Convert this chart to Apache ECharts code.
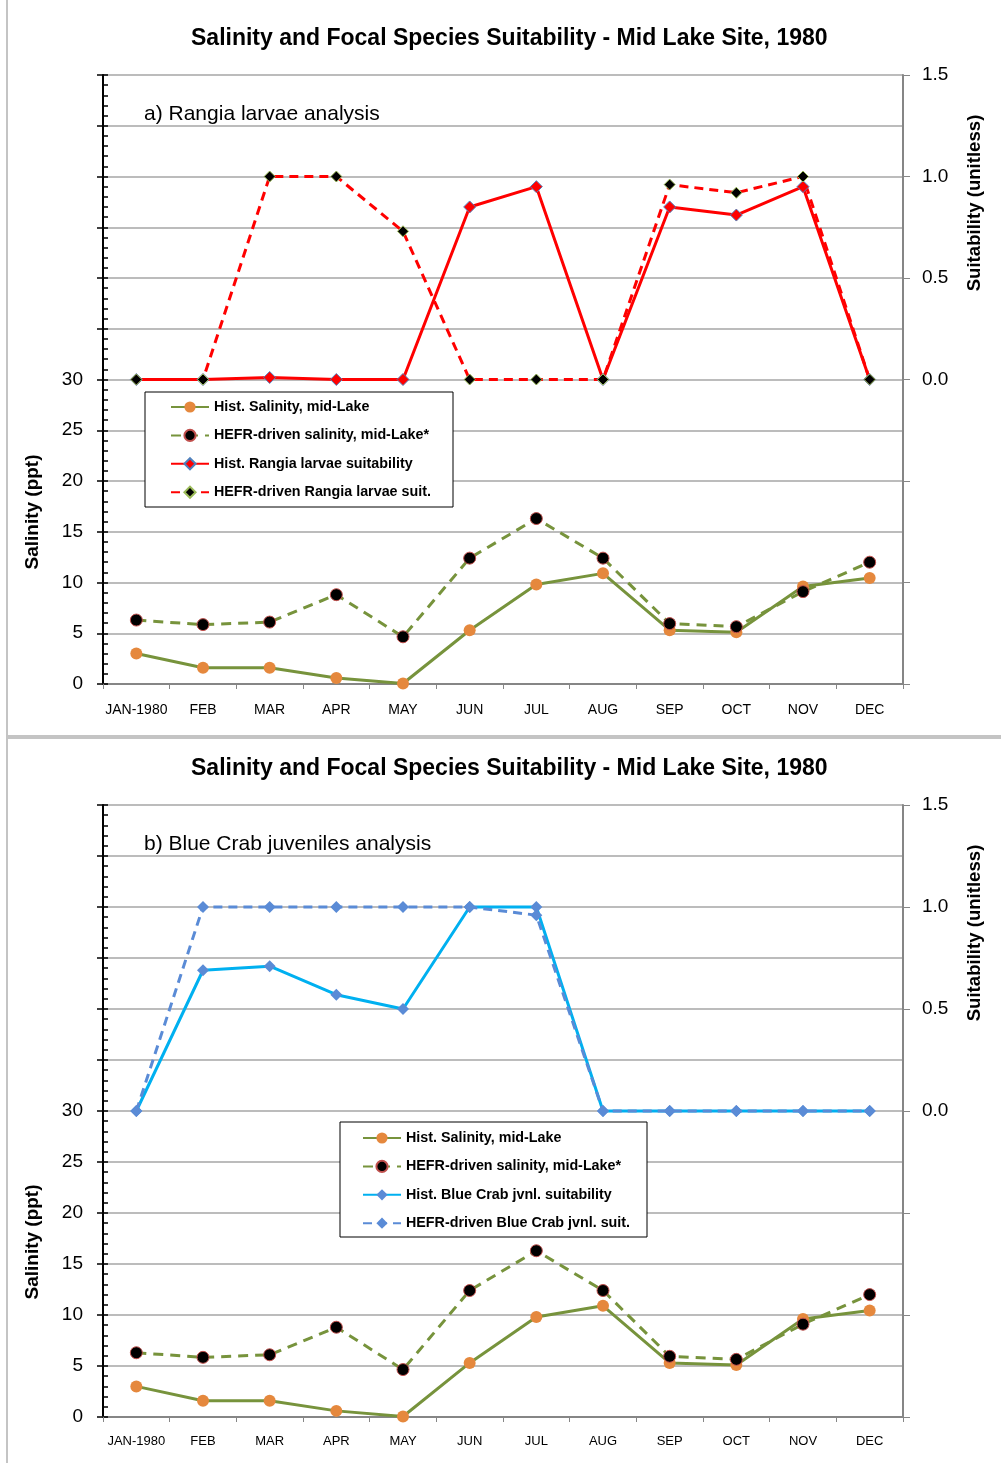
<!DOCTYPE html>
<html>
<head>
<meta charset="UTF-8">
<title>Salinity and Focal Species Suitability - Mid Lake Site, 1980</title>
<script src="https://cdn.jsdelivr.net/npm/echarts@6/dist/echarts.min.js"></script>
<style>
  html, body { margin: 0; padding: 0; background: #fff; }
  body { width: 1001px; height: 1463px; position: relative; overflow: hidden; }
  .chart { position: absolute; left: 0; width: 1001px; }
  #chartA { top: 0; height: 737px; }
  #chartB { top: 737px; height: 726px; }
  .panel { position: absolute; border: 2px solid #c4c4c4; box-sizing: border-box; pointer-events: none; }
  #panelA { left: 6px; top: -2px; width: 1000px; height: 739px; }
  #panelB { left: 6px; top: 737px; width: 1000px; height: 730px; }
</style>
</head>
<body>
<div id="chartA" class="chart"></div>
<div id="chartB" class="chart"></div>
<div id="panelA" class="panel"></div>
<div id="panelB" class="panel"></div>
<script>
var FONT = '"Liberation Sans", Arial, sans-serif';

// data
var months = ['JAN-1980', 'FEB', 'MAR', 'APR', 'MAY', 'JUN', 'JUL', 'AUG', 'SEP', 'OCT', 'NOV', 'DEC'];
var histSalinity = [3.0, 1.6, 1.6, 0.6, 0.05, 5.3, 9.8, 10.9, 5.3, 5.1, 9.6, 10.45];
var hefrSalinity = [6.3, 5.85, 6.1, 8.8, 4.65, 12.4, 16.3, 12.4, 5.95, 5.65, 9.1, 12.0];
var histRangia = [0, 0, 0.01, 0, 0, 0.85, 0.95, 0, 0.85, 0.81, 0.95, 0];
var hefrRangia = [0, 0, 1.0, 1.0, 0.73, 0, 0, 0, 0.96, 0.92, 1.0, 0];
var histBlueCrab = [0, 0.69, 0.71, 0.57, 0.50, 1.0, 1.0, 0, 0, 0, 0, 0];
var hefrBlueCrab = [0, 1.0, 1.0, 1.0, 1.0, 1.0, 0.96, 0, 0, 0, 0, 0];

// tick labels that are shown (the axes run further than this)
var salinityTicks = [0, 5, 10, 15, 20, 25, 30];
var suitTicks = [0, 0.5, 1.0, 1.5];

var mainTitle = 'Salinity and Focal Species Suitability - Mid Lake Site, 1980';

function hasTick(list, v) {
    for (var i = 0; i < list.length; i++) {
        if (Math.abs(list[i] - v) < 1e-6) return true;
    }
    return false;
}

function salinitySeries() {
    return [{
        name: 'Hist. Salinity, mid-Lake',
        type: 'line', yAxisIndex: 0, data: histSalinity,
        symbol: 'circle', symbolSize: 12,
        lineStyle: {color: '#77933C', width: 3},
        itemStyle: {color: '#E5883D'}
    }, {
        name: 'HEFR-driven salinity, mid-Lake*',
        type: 'line', yAxisIndex: 0, data: hefrSalinity,
        symbol: 'circle', symbolSize: 12,
        lineStyle: {color: '#77933C', width: 3, type: [10, 7]},
        itemStyle: {color: '#000', borderColor: '#C0504D', borderWidth: 1}
    }];
}

function makeOption(cfg) {
    var names = [];
    var series = salinitySeries().concat(cfg.suitSeries);
    series.forEach(function (s) { names.push(s.name); });
    return {
        animation: false,
        textStyle: {fontFamily: FONT},
        title: [{
            text: mainTitle, left: 191, top: cfg.titleTop, padding: 0,
            textStyle: {fontFamily: FONT, fontSize: 23, fontWeight: 'bold', color: '#000'}
        }, {
            text: cfg.note, left: 144, top: cfg.noteTop, padding: 0,
            textStyle: {fontFamily: FONT, fontSize: 21, fontWeight: 'normal', color: '#000'}
        }],
        grid: {left: 103, right: 98, top: cfg.gridTop, bottom: cfg.gridBottom},
        legend: {
            orient: 'vertical', left: cfg.legendLeft, top: cfg.legendTop, padding: 0,
            itemWidth: 38, itemHeight: 14, itemGap: 14.4, selectedMode: false,
            data: names,
            textStyle: {fontFamily: FONT, fontSize: 14.3, fontWeight: 'bold', color: '#000'}
        },
        graphic: [{
            type: 'rect', z: 3,
            shape: cfg.box,
            style: {fill: '#fff', stroke: '#000', lineWidth: 1}
        }, {
            type: 'text', x: 33, y: cfg.salNameY, rotation: Math.PI / 2,
            style: {text: 'Salinity (ppt)', fontFamily: FONT, fontSize: 19, fontWeight: 'bold',
                fill: '#000', align: 'center', verticalAlign: 'middle'}
        }, {
            type: 'text', x: 975, y: cfg.suitNameY, rotation: Math.PI / 2,
            style: {text: 'Suitability (unitless)', fontFamily: FONT, fontSize: 18.6, fontWeight: 'bold',
                fill: '#000', align: 'center', verticalAlign: 'middle'}
        }],
        xAxis: {
            type: 'category', data: months, boundaryGap: true,
            axisLine: {onZero: false, lineStyle: {color: '#868686', width: 2}},
            axisTick: {show: true, length: 5, lineStyle: {color: '#868686'}},
            axisLabel: {interval: 0, fontSize: cfg.xFont, color: '#000', margin: cfg.xMargin}
        },
        yAxis: [{
            type: 'value', position: 'left', min: 0, max: 60, interval: 5,
            axisLine: {show: true, onZero: false, lineStyle: {color: '#000', width: 2}},
            axisTick: {show: true, length: 6, lineStyle: {color: '#000', width: 1.5}},
            axisLabel: {fontSize: 19, color: '#000', margin: 20,
                formatter: function (v) { return hasTick(salinityTicks, v) ? String(v) : ''; }},
            splitLine: {show: true, lineStyle: {color: '#a6a6a6', width: 1.5}}
        }, {
            type: 'value', position: 'right', min: -1.5, max: 1.5, interval: 0.5,
            axisLine: {show: true, onZero: false, lineStyle: {color: '#868686', width: 2}},
            axisTick: {show: true, length: 7, lineStyle: {color: '#868686'}},
            axisLabel: {fontSize: 19, color: '#000', margin: 19,
                formatter: function (v) { return hasTick(suitTicks, v) ? v.toFixed(1) : ''; }},
            splitLine: {show: false}
        }, {
            // inner half of the major ticks plus the minor ticks on the salinity axis
            type: 'value', position: 'left', min: 0, max: 60, interval: 5,
            axisLine: {show: false},
            axisTick: {show: true, inside: true, length: 5, lineStyle: {color: '#000', width: 1.5}},
            minorTick: {show: true, splitNumber: 5, length: 5, lineStyle: {color: '#000', width: 1.5}},
            axisLabel: {show: false},
            splitLine: {show: false}
        }],
        series: series
    };
}

var chartA = echarts.init(document.getElementById('chartA'));
chartA.setOption(makeOption({
    titleTop: 27, note: 'a) Rangia larvae analysis', noteTop: 104,
    gridTop: 75, gridBottom: 53,
    legendLeft: 170, legendTop: 400,
    box: {x: 145, y: 392, width: 308, height: 115},
    salNameY: 512, suitNameY: 203,
    xFont: 14, xMargin: 19,
    suitSeries: [{
        name: 'Hist. Rangia larvae suitability',
        type: 'line', yAxisIndex: 1, data: histRangia,
        symbol: 'diamond', symbolSize: 12,
        lineStyle: {color: '#FF0000', width: 3},
        itemStyle: {color: '#FF0000', borderColor: '#4F81BD', borderWidth: 1}
    }, {
        name: 'HEFR-driven Rangia larvae suit.',
        type: 'line', yAxisIndex: 1, data: hefrRangia,
        symbol: 'diamond', symbolSize: 11,
        lineStyle: {color: '#FF0000', width: 3, type: [9, 6]},
        itemStyle: {color: '#000', borderColor: '#9BBB59', borderWidth: 1}
    }]
}));

var chartB = echarts.init(document.getElementById('chartB'));
chartB.setOption(makeOption({
    titleTop: 20, note: 'b) Blue Crab juveniles analysis', noteTop: 97,
    gridTop: 68, gridBottom: 46,
    legendLeft: 362, legendTop: 394,
    box: {x: 340, y: 385, width: 307, height: 115},
    salNameY: 505, suitNameY: 196,
    xFont: 13, xMargin: 18,
    suitSeries: [{
        name: 'Hist. Blue Crab jvnl. suitability',
        type: 'line', yAxisIndex: 1, data: histBlueCrab,
        symbol: 'diamond', symbolSize: 12,
        lineStyle: {color: '#00B0F0', width: 3},
        itemStyle: {color: '#5A8BD6'}
    }, {
        name: 'HEFR-driven Blue Crab jvnl. suit.',
        type: 'line', yAxisIndex: 1, data: hefrBlueCrab,
        symbol: 'diamond', symbolSize: 12,
        lineStyle: {color: '#5A8BD6', width: 3, type: [9, 6]},
        itemStyle: {color: '#5A8BD6'}
    }]
}));
</script>
</body>
</html>
